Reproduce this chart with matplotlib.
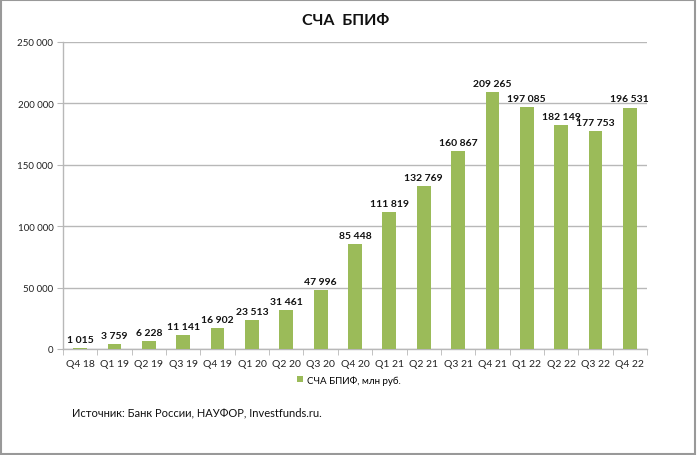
import matplotlib
matplotlib.use("Agg")
import matplotlib.pyplot as plt
from matplotlib.patches import Rectangle
from matplotlib.ticker import FuncFormatter, MultipleLocator

plt.rcParams['font.family'] = ['Lato', 'DejaVu Sans']

categories = ["Q4 18", "Q1 19", "Q2 19", "Q3 19", "Q4 19", "Q1 20", "Q2 20", "Q3 20",
              "Q4 20", "Q1 21", "Q2 21", "Q3 21", "Q4 21", "Q1 22", "Q2 22", "Q3 22", "Q4 22"]
values = [1015, 3759, 6228, 11141, 16902, 23513, 31461, 47996,
          85448, 111819, 132769, 160867, 209265, 197085, 182149, 177753, 196531]
series_name = "СЧА БПИФ, млн руб."
title = "СЧА  БПИФ"
source = "Источник: Банк России, НАУФОР, Investfunds.ru."

green = "#9BBB59"
grid = "#B8B8B8"

def fmt(v):
    return f"{int(v):,}".replace(",", " ")

fig = plt.figure(figsize=(6.98, 4.56), dpi=100)
ax = fig.add_axes([63/698, 106/456, (647-63)/698, (350-43)/456])

x = list(range(len(categories)))
bars = ax.bar(x, values, width=0.4, color=green, label=series_name, zorder=3)

ax.set_xlim(-0.5, len(categories) - 0.5)
ax.set_ylim(0, 250000)
ax.yaxis.set_major_locator(MultipleLocator(50000))
ax.yaxis.set_major_formatter(FuncFormatter(lambda v, p: fmt(v)))
ax.grid(axis='y', color=grid, linewidth=1.0, zorder=0)

ax.set_xticks(x)
ax.set_xticklabels(categories)
ax.set_xticks([i + 0.5 for i in range(-1, len(categories))], minor=True)
ax.tick_params(axis='x', which='major', length=0, labelsize=7.5, pad=7, colors='#222222')
ax.tick_params(axis='x', which='minor', length=4, color=grid)
ax.tick_params(axis='y', length=4, color=grid, labelsize=7, colors='#222222', pad=3)

for s in ['top', 'right']:
    ax.spines[s].set_visible(False)
for s in ['left', 'bottom']:
    ax.spines[s].set_color(grid)
    ax.spines[s].set_linewidth(1.0)

for b, v in zip(bars, values):
    ax.annotate(fmt(v), (b.get_x() + b.get_width() / 2, v), xytext=(0, 3),
                textcoords='offset points', ha='center', va='bottom',
                fontsize=7.5, fontweight='bold', color='#111111')

fig.text(0.495, 1 - 21/456, title, ha='center', va='center', fontsize=11.5,
         fontweight='bold', color='#111111')

fig.legend(handles=[bars], labels=[series_name], loc='center', bbox_to_anchor=(0.5, 1 - 381/456),
           frameon=False, fontsize=7, handlelength=0.6, handleheight=0.6, handletextpad=0.4)

fig.text(72/698, 1 - 413/456, source, ha='left', va='center', fontsize=8, color='#111111')

fig.patches.append(Rectangle((0.002, 0.003), 0.993, 0.994, transform=fig.transFigure,
                             fill=False, edgecolor='#999999', linewidth=1.5))

fig.savefig("out.png", dpi=100)
